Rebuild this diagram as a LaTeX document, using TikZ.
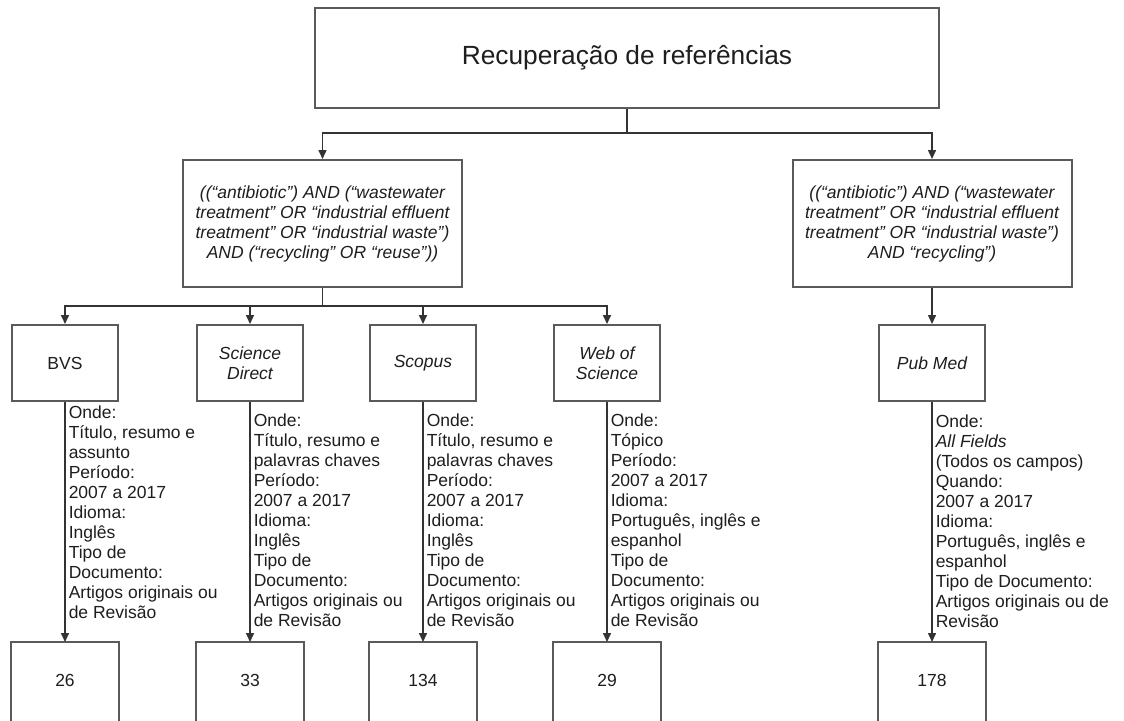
\documentclass[tikz,border=0pt]{standalone}
\usepackage{fontspec}
\setmainfont{Liberation Sans}
\usetikzlibrary{arrows.meta,positioning}
\definecolor{boxgray}{HTML}{5A5A5A}
\definecolor{linegray}{HTML}{333333}
\definecolor{textgray}{HTML}{1E1E1E}
\tikzset{box node/.style={rectangle, draw=boxgray, line width=2pt, align=center,
    text=textgray, font=\fontsize{17.5}{20}\selectfont}}
\tikzset{title node/.style={box node, minimum width=624pt, minimum height=100pt,
    font=\fontsize{26.3}{30}\selectfont}}
\tikzset{query node/.style={box node, minimum width=279pt, minimum height=127pt,
    font=\fontsize{17.5}{20}\selectfont\itshape}}
\tikzset{base node/.style={box node, minimum width=106pt, minimum height=76pt}}
\tikzset{italic base node/.style={base node, font=\fontsize{17.5}{20}\selectfont\itshape}}
\tikzset{count node/.style={base node, draw=none, minimum height=74pt}}
\tikzset{regular edge/.style={draw=linegray, line width=1.5pt}}
\tikzset{arrow edge/.style={regular edge, -{Triangle[length=9pt,width=8pt]}}}
\tikzset{info/.style={anchor=west, align=left, inner xsep=3pt, text=textgray,
    font=\fontsize{17.5}{20}\selectfont}}

\begin{document}
\begin{tikzpicture}[x=1pt, y=-1pt]
  \fill [white] (0, 0) rectangle (1124, 720);
  \useasboundingbox (0, 0) rectangle (1124, 720);

  % boxes
  \node [title node]       (title)   at (627,   58)    {Recuperação de referências};
  \node [query node]       (queryA)  at (322.5, 223.5) {((“antibiotic”) AND (“wastewater\\
    treatment” OR “industrial effluent\\ treatment” OR “industrial waste”)\\
    AND (“recycling” OR “reuse”))};
  \node [query node]       (queryB)  at (932,   223.5) {((“antibiotic”) AND (“wastewater\\
    treatment” OR “industrial effluent\\ treatment” OR “industrial waste”)\\
    AND “recycling”)};

  \node [base node]        (bvs)     at ( 65, 363) {BVS};
  \node [italic base node] (scidir)  at (250, 363) {Science\\ Direct};
  \node [italic base node] (scopus)  at (423, 363) {Scopus};
  \node [italic base node] (wos)     at (607, 363) {Web of\\ Science};
  \node [italic base node] (pubmed)  at (932, 363) {Pub Med};

  \node [count node]       (c26)     at ( 65, 680) {26};
  \node [count node]       (c33)     at (250, 680) {33};
  \node [count node]       (c134)    at (423, 680) {134};
  \node [count node]       (c29)     at (607, 680) {29};
  \node [count node]       (c178)    at (932, 680) {178};

  % result boxes run off the bottom edge
  \draw [draw=boxgray, line width=2pt] (c26.north west)  rectangle ([yshift=-12pt]c26.south east);
  \draw [draw=boxgray, line width=2pt] (c33.north west)  rectangle ([yshift=-12pt]c33.south east);
  \draw [draw=boxgray, line width=2pt] (c134.north west) rectangle ([yshift=-12pt]c134.south east);
  \draw [draw=boxgray, line width=2pt] (c29.north west)  rectangle ([yshift=-12pt]c29.south east);
  \draw [draw=boxgray, line width=2pt] (c178.north west) rectangle ([yshift=-12pt]c178.south east);

  % forks
  \coordinate (fork0) at (627,   133);
  \coordinate (fork1) at (322.5, 306);

  \draw [regular edge] (title)  -- (fork0);
  \draw [arrow edge]   (fork0)  -| (queryA);
  \draw [arrow edge]   (fork0)  -| (queryB);

  \draw [regular edge] (queryA) -- (fork1);
  \draw [arrow edge]   (fork1)  -| (bvs);
  \draw [arrow edge]   (fork1)  -| (scidir);
  \draw [arrow edge]   (fork1)  -| (scopus);
  \draw [arrow edge]   (fork1)  -| (wos);
  \draw [arrow edge]   (queryB) -- (pubmed);

  % search settings
  \draw [arrow edge] (bvs) -- node [info, yshift=10pt] {Onde:\\ Título, resumo e\\ assunto\\
    Período:\\ 2007 a 2017\\ Idioma:\\ Inglês\\ Tipo de\\ Documento:\\
    Artigos originais ou\\ de Revisão} (c26);
  \draw [arrow edge] (scidir) -- node [info, yshift=2pt] {Onde:\\ Título, resumo e\\ palavras chaves\\
    Período:\\ 2007 a 2017\\ Idioma:\\ Inglês\\ Tipo de\\ Documento:\\
    Artigos originais ou\\ de Revisão} (c33);
  \draw [arrow edge] (scopus) -- node [info, yshift=2pt] {Onde:\\ Título, resumo e\\ palavras chaves\\
    Período:\\ 2007 a 2017\\ Idioma:\\ Inglês\\ Tipo de\\ Documento:\\
    Artigos originais ou\\ de Revisão} (c134);
  \draw [arrow edge] (wos) -- node [info, yshift=2pt] {Onde:\\ Tópico\\ Período:\\ 2007 a 2017\\
    Idioma:\\ Português, inglês e\\ espanhol\\ Tipo de\\ Documento:\\
    Artigos originais ou\\ de Revisão} (c29);
  \draw [arrow edge] (pubmed) -- node [info, yshift=1pt] {Onde:\\ \textit{All Fields}\\
    (Todos os campos)\\ Quando:\\ 2007 a 2017\\ Idioma:\\ Português, inglês e\\ espanhol\\
    Tipo de Documento:\\ Artigos originais ou de\\ Revisão} (c178);
\end{tikzpicture}
\end{document}
